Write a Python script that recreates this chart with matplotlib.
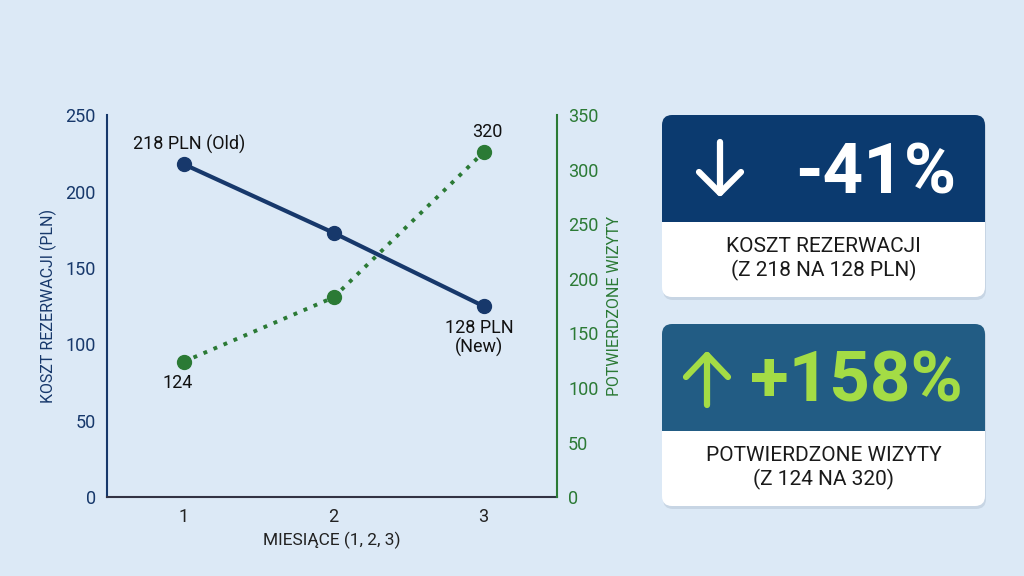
import matplotlib.pyplot as plt
from matplotlib.patches import FancyBboxPatch

plt.rcParams['font.family'] = ['Roboto', 'DejaVu Sans']

# --- Data ---
months = [1, 2, 3]
cost_pln = [218, 173, 125]
visits = [124, 183, 316]
cost_labels = ['218 PLN (Old)', None, '128 PLN\n(New)']
visit_labels = ['124', None, '320']

BG = '#dce9f6'
NAVY = '#17386b'
GREEN = '#2b7a35'

fig = plt.figure(figsize=(10.24, 5.76), dpi=100, facecolor=BG)

# --- Chart ---
ax = fig.add_axes([0.1045, 0.137, 0.4395, 0.663])
ax.set_facecolor(BG)
ax.plot(months, cost_pln, color=NAVY, lw=3, marker='o', ms=10, zorder=3)
ax.set_xlim(0.49, 3.49)
ax.set_ylim(0, 250)
ax.set_xticks(months)
ax.set_yticks(range(0, 251, 50))
ax.tick_params(axis='y', colors=NAVY, labelsize=13, length=0, pad=8)
ax.tick_params(axis='x', colors='#222222', labelsize=13, length=0, pad=8)
ax.set_xlabel('MIESIĄCE (1, 2, 3)', fontsize=12.5, color='#222222', labelpad=4)
ax.set_ylabel('KOSZT REZERWACJI (PLN)', fontsize=11.5, color=NAVY, labelpad=6)
for s in ['top', 'right']:
    ax.spines[s].set_visible(False)
ax.spines['left'].set_color(NAVY)
ax.spines['bottom'].set_color('#333344')
ax.spines['left'].set_linewidth(1.5)
ax.spines['bottom'].set_linewidth(1.5)

ax2 = ax.twinx()
ax2.plot(months, visits, color=GREEN, lw=2.8, ls=(0, (1, 1.8)), marker='o', ms=10, zorder=3)
ax2.set_ylim(0, 350)
ax2.set_yticks(range(0, 351, 50))
ax2.tick_params(axis='y', colors=GREEN, labelsize=13, length=0, pad=8)
ax2.set_ylabel('POTWIERDZONE WIZYTY', fontsize=11.5, color=GREEN, labelpad=6)
for s in ['top', 'left', 'bottom']:
    ax2.spines[s].set_visible(False)
ax2.spines['right'].set_color(GREEN)
ax2.spines['right'].set_linewidth(1.5)

# point labels
ax.annotate(cost_labels[0], (months[0], cost_pln[0]), xytext=(4, 7),
            textcoords='offset points', ha='center', va='bottom', fontsize=13, color='#111111')
ax.annotate(cost_labels[2], (months[2], cost_pln[2]), xytext=(-3, -9),
            textcoords='offset points', ha='center', va='top', fontsize=13, color='#111111',
            linespacing=1.05)
ax2.annotate(visit_labels[0], (months[0], visits[0]), xytext=(-4, -9),
             textcoords='offset points', ha='center', va='top', fontsize=13, color='#111111')
ax2.annotate(visit_labels[2], (months[2], visits[2]), xytext=(3, 8),
             textcoords='offset points', ha='center', va='bottom', fontsize=13, color='#111111')

# --- KPI cards (pixel coordinates overlay) ---
ov = fig.add_axes([0, 0, 1, 1], facecolor='none')
ov.set_xlim(0, 1024)
ov.set_ylim(576, 0)
ov.axis('off')


def card(y0, top_color, big, big_color, big_x, label):
    x0, w, h, htop = 662, 323, 182, 107
    # shadow
    ov.add_patch(FancyBboxPatch((x0 + 1, y0 + 3), w, h, boxstyle='round,pad=0,rounding_size=10',
                                fc='#b9c8d8', ec='none', alpha=0.6, zorder=1))
    ov.add_patch(FancyBboxPatch((x0, y0), w, h, boxstyle='round,pad=0,rounding_size=10',
                                fc='white', ec='none', zorder=2))
    ov.add_patch(FancyBboxPatch((x0, y0), w, htop, boxstyle='round,pad=0,rounding_size=10',
                                fc=top_color, ec='none', zorder=3))
    ov.add_patch(plt.Rectangle((x0, y0 + htop - 12), w, 12, fc=top_color, ec='none', zorder=3))
    ov.text(big_x, y0 + htop / 2 + 5, big, ha='left', va='center', fontsize=51,
            fontweight='bold', color=big_color, zorder=4)
    ov.text(x0 + w / 2, y0 + htop + 37, label, ha='center', va='center', fontsize=15,
            color='#1a1a1a', linespacing=1.25, zorder=4)


def arrow(x, y_tip, y_tail, half_w, arm_y, color):
    ov.plot([x, x], [y_tail, y_tip], color=color, lw=4.5, solid_capstyle='round', zorder=5)
    ov.plot([x - half_w, x, x + half_w], [arm_y, y_tip, arm_y], color=color, lw=4.5,
            solid_capstyle='round', solid_joinstyle='round', zorder=5)


card(115, '#0b3a6f', '-41%', 'white', 795, 'KOSZT REZERWACJI\n(Z 218 NA 128 PLN)')
arrow(720, 193, 142, 21, 172, 'white')
card(324, '#225c84', '+158%', '#a4dc45', 750, 'POTWIERDZONE WIZYTY\n(Z 124 NA 320)')
arrow(707, 355, 405, 21, 377, '#a4dc45')

fig.savefig('out.png', dpi=100, facecolor=BG)
